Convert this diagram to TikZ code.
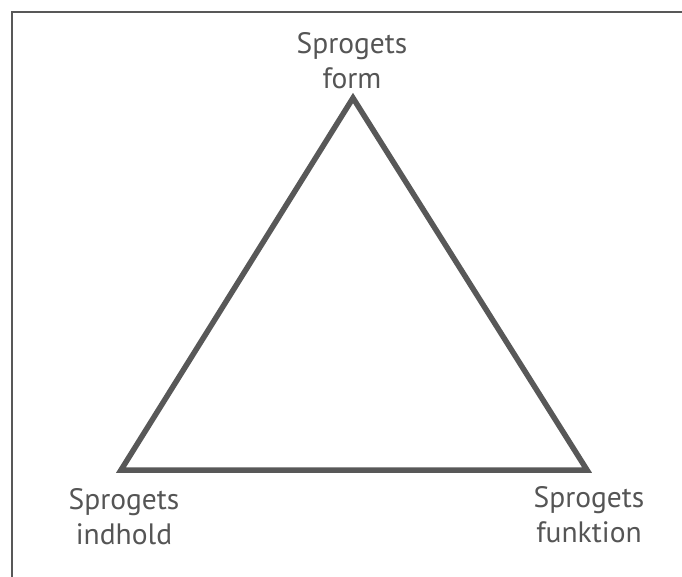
\documentclass[tikz,border=0pt]{standalone}
\usepackage{fontspec}
\setmainfont{PT Sans}
\definecolor{linegray}{HTML}{585858}
\definecolor{textgray}{HTML}{555555}
\begin{document}
\begin{tikzpicture}[x=1pt,y=-1pt,
  label/.style={text=textgray,align=center,inner sep=0pt,font=\fontsize{29.5}{35}\selectfont},
  tri/.style={draw=linegray,line width=5.5pt,line join=miter}]
\useasboundingbox (0,0) rectangle (682,577);
\draw[linegray,line width=2pt] (12,577) -- (12,12) -- (682,12);
\coordinate (A) at (353,98);
\coordinate (B) at (121,470);
\coordinate (C) at (587,470);
\draw[tri] (A) -- (B) -- (C) -- cycle;
\node[label] (top) at (352,61) {Sprogets\\form};
\node[label] (left) at (124,517) {Sprogets\\indhold};
\node[label] (right) at (589,515) {Sprogets\\funktion};
\end{tikzpicture}
\end{document}
